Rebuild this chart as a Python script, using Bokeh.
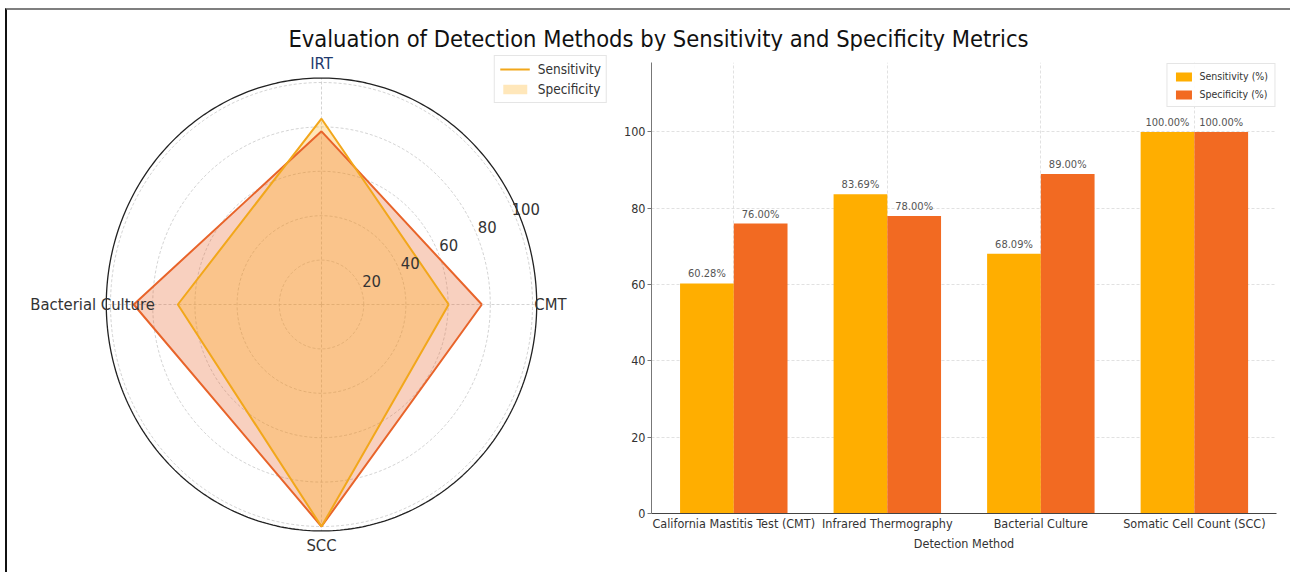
import numpy as np
from bokeh.plotting import figure
from bokeh.models import Range1d, FixedTicker, Legend, LegendItem, Div, ColumnDataSource
from bokeh.layouts import column, row
from bokeh.core.properties import value
from bokeh.embed import file_html
from bokeh.resources import INLINE

# ---------------- data ----------------
title_text = "Evaluation of Detection Methods by Sensitivity and Specificity Metrics"

radar_categories = ["CMT", "IRT", "Bacterial Culture", "SCC"]
radar_sensitivity = [60.28, 83.69, 68.09, 100.0]
radar_specificity = [76.0, 78.0, 89.0, 100.0]
radar_ticks = [20, 40, 60, 80, 100]

methods = ["California Mastitis Test (CMT)", "Infrared Thermography",
           "Bacterial Culture", "Somatic Cell Count (SCC)"]
sensitivity = [60.28, 83.69, 68.09, 100.0]
specificity = [76.0, 78.0, 89.0, 100.0]
bar_yticks = [0, 20, 40, 60, 80, 100, 120]

FONT = "DejaVu Sans Condensed"
SENS_LINE = "#F2A71B"
SENS_FILL = "#FFA500"
SPEC_COLOR = "#E8642A"
BAR_SENS = "#FFAE00"
BAR_SPEC = "#F26A22"

# ---------------- radar ----------------
RW, RH = 605, 522
sx, sy = 2.11, 2.22          # px per unit horizontally / vertically
cx, cy = 321 - 7, 304 - 50   # centre inside the figure (px from left/top)
radar = figure(width=RW, height=RH, output_backend="svg", toolbar_location=None,
               x_range=Range1d(-cx / sx, (RW - cx) / sx),
               y_range=Range1d(-(RH - cy) / sy, cy / sy),
               x_axis_type=None, y_axis_type=None, min_border=0)
radar.outline_line_color = None
radar.xgrid.visible = False
radar.ygrid.visible = False

n = len(radar_categories)
angles = np.arange(n) * 2 * np.pi / n
t = np.linspace(0, 2 * np.pi, 361)

radar.multi_line(xs=[list(r * np.cos(t)) for r in radar_ticks],
                 ys=[list(r * np.sin(t)) for r in radar_ticks],
                 line_color="#c8c8c8", line_width=0.8, line_dash="3 2")
RMAX = 102
radar.multi_line(xs=[[0, RMAX * np.cos(a)] for a in angles],
                 ys=[[0, RMAX * np.sin(a)] for a in angles],
                 line_color="#c8c8c8", line_width=0.8, line_dash="3 2")
radar.line(x=list(RMAX * np.cos(t)), y=list(RMAX * np.sin(t)), line_color="#222222", line_width=1.3)

def closed(vals):
    v = list(vals) + [vals[0]]
    a = list(angles) + [angles[0]]
    return [r * np.cos(q) for r, q in zip(v, a)], [r * np.sin(q) for r, q in zip(v, a)]

spx, spy = closed(radar_specificity)
sex, sey = closed(radar_sensitivity)
spec_fill = radar.patch(x=spx, y=spy, fill_color=SPEC_COLOR, fill_alpha=0.3, line_alpha=0)
sens_fill = radar.patch(x=sex, y=sey, fill_color=SENS_FILL, fill_alpha=0.27, line_alpha=0)
spec_line = radar.line(x=spx, y=spy, line_color=SPEC_COLOR, line_width=2)
sens_line = radar.line(x=sex, y=sey, line_color=SENS_LINE, line_width=2)

LR = 108.5
radar.text(x=[LR * np.cos(a) for a in angles], y=[LR * np.sin(a) for a in angles],
           text=radar_categories, text_align="center", text_baseline="middle",
           text_font=value(FONT), text_font_size="16.5px",
           text_color=["#333333", "#1f3a6e", "#333333", "#333333"])
ra = np.deg2rad(24)
radar.text(x=[(r + 6) * np.cos(ra) for r in radar_ticks], y=[(r + 6) * np.sin(ra) for r in radar_ticks],
           text=[str(r) for r in radar_ticks], text_align="center", text_baseline="middle",
           text_font=value(FONT), text_font_size="16.5px", text_color="#333333")

rleg = Legend(items=[LegendItem(label="Sensitivity", renderers=[sens_line]),
                     LegendItem(label="Specificity", renderers=[sens_fill])],
              location="top_right", margin=5, label_text_font=FONT, label_text_font_size="13.5px",
              label_text_color="#333333", border_line_color="#cccccc", background_fill_alpha=0.9,
              glyph_width=30, glyph_height=12, label_height=14, spacing=4, padding=5, label_standoff=8)
radar.add_layout(rleg)

# ---------------- bars ----------------
BW, BH = 678, 522
bar = figure(width=BW, height=BH, output_backend="svg", toolbar_location=None,
             x_range=Range1d(-0.536, 3.535), y_range=Range1d(0, 118.2),
             min_border_left=39, min_border_right=14, min_border_top=12, min_border_bottom=59)
bar.outline_line_color = None
idx = np.arange(len(methods))
w = 0.35
b1 = bar.vbar(x=idx - w / 2, top=sensitivity, width=w, fill_color=BAR_SENS, line_color=None)
b2 = bar.vbar(x=idx + w / 2, top=specificity, width=w, fill_color=BAR_SPEC, line_color=None)

labels = ColumnDataSource(dict(
    x=list(idx - w / 2) + list(idx + w / 2),
    y=sensitivity + specificity,
    t=[f"{v:.2f}%" for v in sensitivity + specificity]))
bar.text(x="x", y="y", text="t", source=labels, text_align="center", text_baseline="bottom",
         y_offset=-3, text_font=value(FONT), text_font_size="11px", text_color="#555555")

bar.xaxis.ticker = FixedTicker(ticks=list(idx))
bar.xaxis.major_label_overrides = {int(i): m for i, m in zip(idx, methods)}
bar.yaxis.ticker = FixedTicker(ticks=bar_yticks)
bar.xgrid.ticker = FixedTicker(ticks=list(idx))
for g in (bar.xgrid, bar.ygrid):
    g.grid_line_color = "#d9d9d9"
    g.grid_line_dash = "3 2"
    g.grid_line_width = 0.8
for ax in (bar.xaxis, bar.yaxis):
    ax.major_label_text_font = FONT
    ax.major_label_text_font_size = "12.5px"
    ax.major_label_text_color = "#333333"
    ax.minor_tick_line_color = None
    ax.major_tick_in = 0
    ax.major_tick_out = 4
    ax.major_label_standoff = 2
bar.xaxis.major_tick_out = 1
bar.xaxis.major_label_standoff = 1
bar.yaxis.axis_line_color = "#777777"
bar.yaxis.major_tick_line_color = "#777777"
bar.xaxis.axis_line_color = "#444444"
bar.xaxis.major_tick_line_color = None
bar.xaxis.axis_label = "Detection Method"
bar.xaxis.axis_label_text_font = FONT
bar.xaxis.axis_label_text_font_size = "12.5px"
bar.xaxis.axis_label_text_font_style = "normal"
bar.xaxis.axis_label_text_color = "#333333"
bar.xaxis.axis_label_standoff = 2

bleg = Legend(items=[LegendItem(label="Sensitivity (%)", renderers=[b1]),
                     LegendItem(label="Specificity (%)", renderers=[b2])],
              location="top_right", margin=1, label_text_font=FONT, label_text_font_size="10.5px",
              label_text_color="#333333", border_line_color="#cccccc", background_fill_alpha=0.9,
              glyph_width=20, glyph_height=11, label_height=12, spacing=6, padding=6, label_standoff=6)
bar.add_layout(bleg)

# ---------------- layout ----------------
title = Div(text=f'<div style="box-sizing:border-box;width:1283px;text-align:center;padding-left:20px;padding-top:17px;'
                 f'font-family:\'DejaVu Sans\';font-stretch:condensed;font-size:23.5px;line-height:24px;color:#111">{title_text}</div>',
            width=1283, height=40, margin=0)
radar.margin = 0
bar.margin = 0
layout = column(title, row(column(radar, margin=0), column(bar, margin=0), margin=0),
                margin=(8, 0, 0, 5),
                styles={"border-top": "2px solid #7f7f7f", "border-left": "2px solid #111111"})

open("out.html", "w").write(file_html(layout, INLINE))
